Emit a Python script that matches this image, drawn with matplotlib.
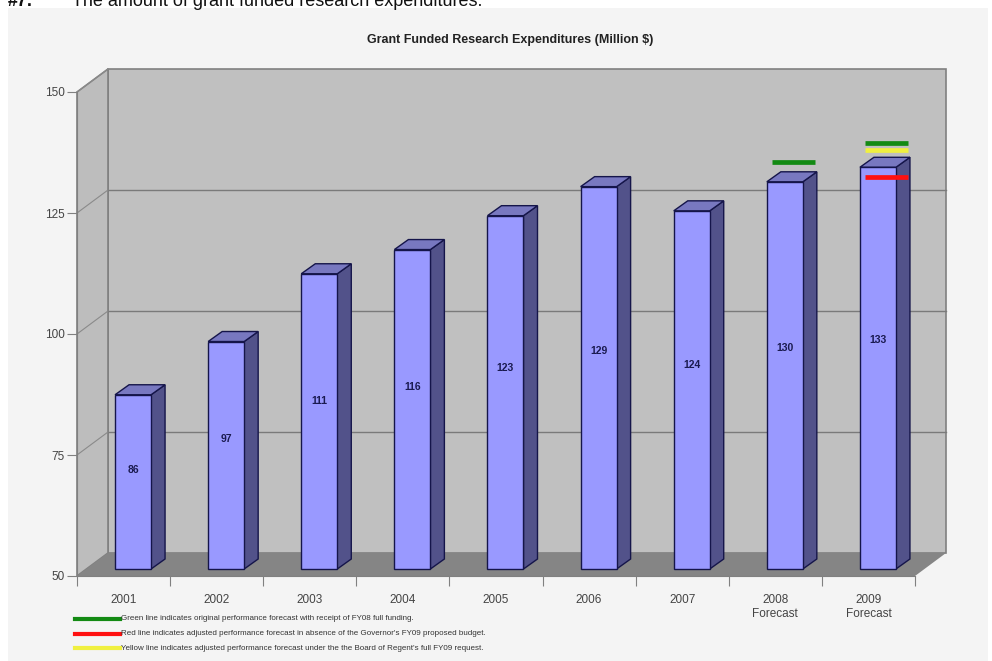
import matplotlib.pyplot as plt
from matplotlib.patches import Polygon, Rectangle

plt.rcParams['font.family'] = ['Liberation Sans', 'DejaVu Sans']

# data
years = ['2001', '2002', '2003', '2004', '2005', '2006', '2007',
         '2008\nForecast', '2009\nForecast']
expenditures = [86, 97, 111, 116, 123, 129, 124, 130, 133]
y_ticks = [50, 75, 100, 125, 150]

# forecast marker lines: (bar index, value)
green_lines = [(7, 134), (8, 138)]
yellow_lines = [(8, 136.5)]
red_lines = [(8, 131)]

legend_texts = [
    ('#138a13', "Green line indicates original performance forecast with receipt of FY08 full funding."),
    ('#ff1010', "Red line indicates adjusted performance forecast in absence of the Governor's FY09 proposed budget."),
    ('#f0f040', "Yellow line indicates adjusted performance forecast under the the Board of Regent's full FY09 request."),
]

W, H = 992, 661
fig = plt.figure(figsize=(W / 100, H / 100), dpi=100, facecolor='white')

# light grey chart area
fig.patches.append(Rectangle((8 / W, 0), 980 / W, 1 - 8 / H, transform=fig.transFigure,
                             facecolor='#f4f4f4', edgecolor='none', zorder=-10))

# front plane of the 3D box, in pixels
left_px, right_px, top_px, bot_px = 77, 915, 92, 576
ax = fig.add_axes([left_px / W, 1 - bot_px / H, (right_px - left_px) / W, (bot_px - top_px) / H])
ax.set_zorder(1)
ax.set_xlim(-0.5, len(years) - 0.5)
ax.set_ylim(50, 150)
ax.patch.set_visible(False)

ux = (right_px - left_px) / len(years)   # px per category
uy = (bot_px - top_px) / 100.0           # px per value unit


def off(px, py):
    return px / ux, py / uy


wx, wy = off(31, 23)    # wall depth
fx, fy = off(9.5, 7)    # bar front offset
bx, by = off(14, 10)    # bar depth
bw = 36 / ux
x0, x1 = -0.5, len(years) - 0.5

# walls and floor
ax.add_patch(Polygon([(x0 + wx, 50 + wy), (x1 + wx, 50 + wy), (x1 + wx, 150 + wy), (x0 + wx, 150 + wy)],
                     closed=True, facecolor='#c0c0c0', edgecolor='#808080', lw=1.2, clip_on=False, zorder=1))
ax.add_patch(Polygon([(x0, 50), (x0, 150), (x0 + wx, 150 + wy), (x0 + wx, 50 + wy)],
                     closed=True, facecolor='#bdbdbd', edgecolor='#808080', lw=1.2, clip_on=False, zorder=1))
ax.add_patch(Polygon([(x0, 50), (x1, 50), (x1 + wx, 50 + wy), (x0 + wx, 50 + wy)],
                     closed=True, facecolor='#858585', edgecolor='none', clip_on=False, zorder=2))
for t in y_ticks[1:-1]:
    ax.plot([x0 + wx, x1 + wx], [t + wy, t + wy], color='#7a7a7a', lw=1, clip_on=False, zorder=1.5)
for t in y_ticks[1:]:
    ax.plot([x0, x0 + wx], [t, t + wy], color='#8a8a8a', lw=0.8, clip_on=False, zorder=1.5)

# bars
for i, v in enumerate(expenditures):
    l = i - bw / 2 + fx
    r = l + bw
    b = 50 + fy
    t = v + fy
    ax.add_patch(Polygon([(r, b), (r + bx, b + by), (r + bx, t + by), (r, t)], closed=True,
                         facecolor='#52528a', edgecolor='#15154a', lw=1, clip_on=False, zorder=3))
    ax.add_patch(Polygon([(l, t), (r, t), (r + bx, t + by), (l + bx, t + by)], closed=True,
                         facecolor='#7878c0', edgecolor='#15154a', lw=1, clip_on=False, zorder=3))
    ax.add_patch(Rectangle((l, b), bw, t - b, facecolor='#9999ff', edgecolor='#15154a',
                           lw=1, clip_on=False, zorder=3))
    ax.text(i + fx, 50 + fy + (v - 50) * 0.57, str(v), ha='center', va='center',
            fontsize=7.5, fontweight='bold', color='#1a1a50', zorder=4)


def marker(items, color):
    for i, v in items:
        ax.plot([i - 0.04, i + 0.43], [v + fy, v + fy], color=color,
                lw=3.4, solid_capstyle='butt', clip_on=False, zorder=5)


marker(green_lines, '#138a13')
marker(yellow_lines, '#f0f040')
marker(red_lines, '#ff1010')

# axes
for s in ['top', 'right']:
    ax.spines[s].set_visible(False)
ax.spines['left'].set_color('#808080')
ax.spines['bottom'].set_color('#808080')
ax.spines['left'].set_zorder(2.5)
ax.set_yticks(y_ticks)
ax.set_yticklabels([str(t) for t in y_ticks], fontsize=8.5, color='#444444')
ax.tick_params(axis='y', length=7, color='#808080', pad=2)
ax.set_xticks([i + 0.5 for i in range(-1, len(years))])
ax.set_xticklabels([])
ax.set_xticks(range(len(years)), minor=True)
ax.set_xticklabels(years, minor=True, fontsize=8.5, color='#444444', va='top')
ax.tick_params(axis='x', which='major', length=7, color='#808080')
ax.tick_params(axis='x', which='minor', length=0, pad=13)

fig.text(510 / W, 1 - 40 / H, 'Grant Funded Research Expenditures (Million $)', ha='center', va='center',
         fontsize=9, fontweight='bold', color='#222222')

# cut-off caption at the very top
fig.text(8 / W, 1 - 6.5 / H, '#7.', fontsize=13, fontweight='bold', va='baseline', color='#111111')
fig.text(72 / W, 1 - 6.5 / H, 'The amount of grant funded research expenditures.', fontsize=13,
         va='baseline', color='#111111')

# legend notes
for k, (c, txt) in enumerate(legend_texts):
    yy = 1 - (619 + 14.5 * k) / H
    fig.add_artist(plt.Line2D([75 / W, 120 / W], [yy, yy], color=c, lw=3, transform=fig.transFigure))
    fig.text(121 / W, yy, txt, fontsize=5.8, va='center', color='#333333')

fig.savefig('out.png', dpi=100, facecolor=fig.get_facecolor())
